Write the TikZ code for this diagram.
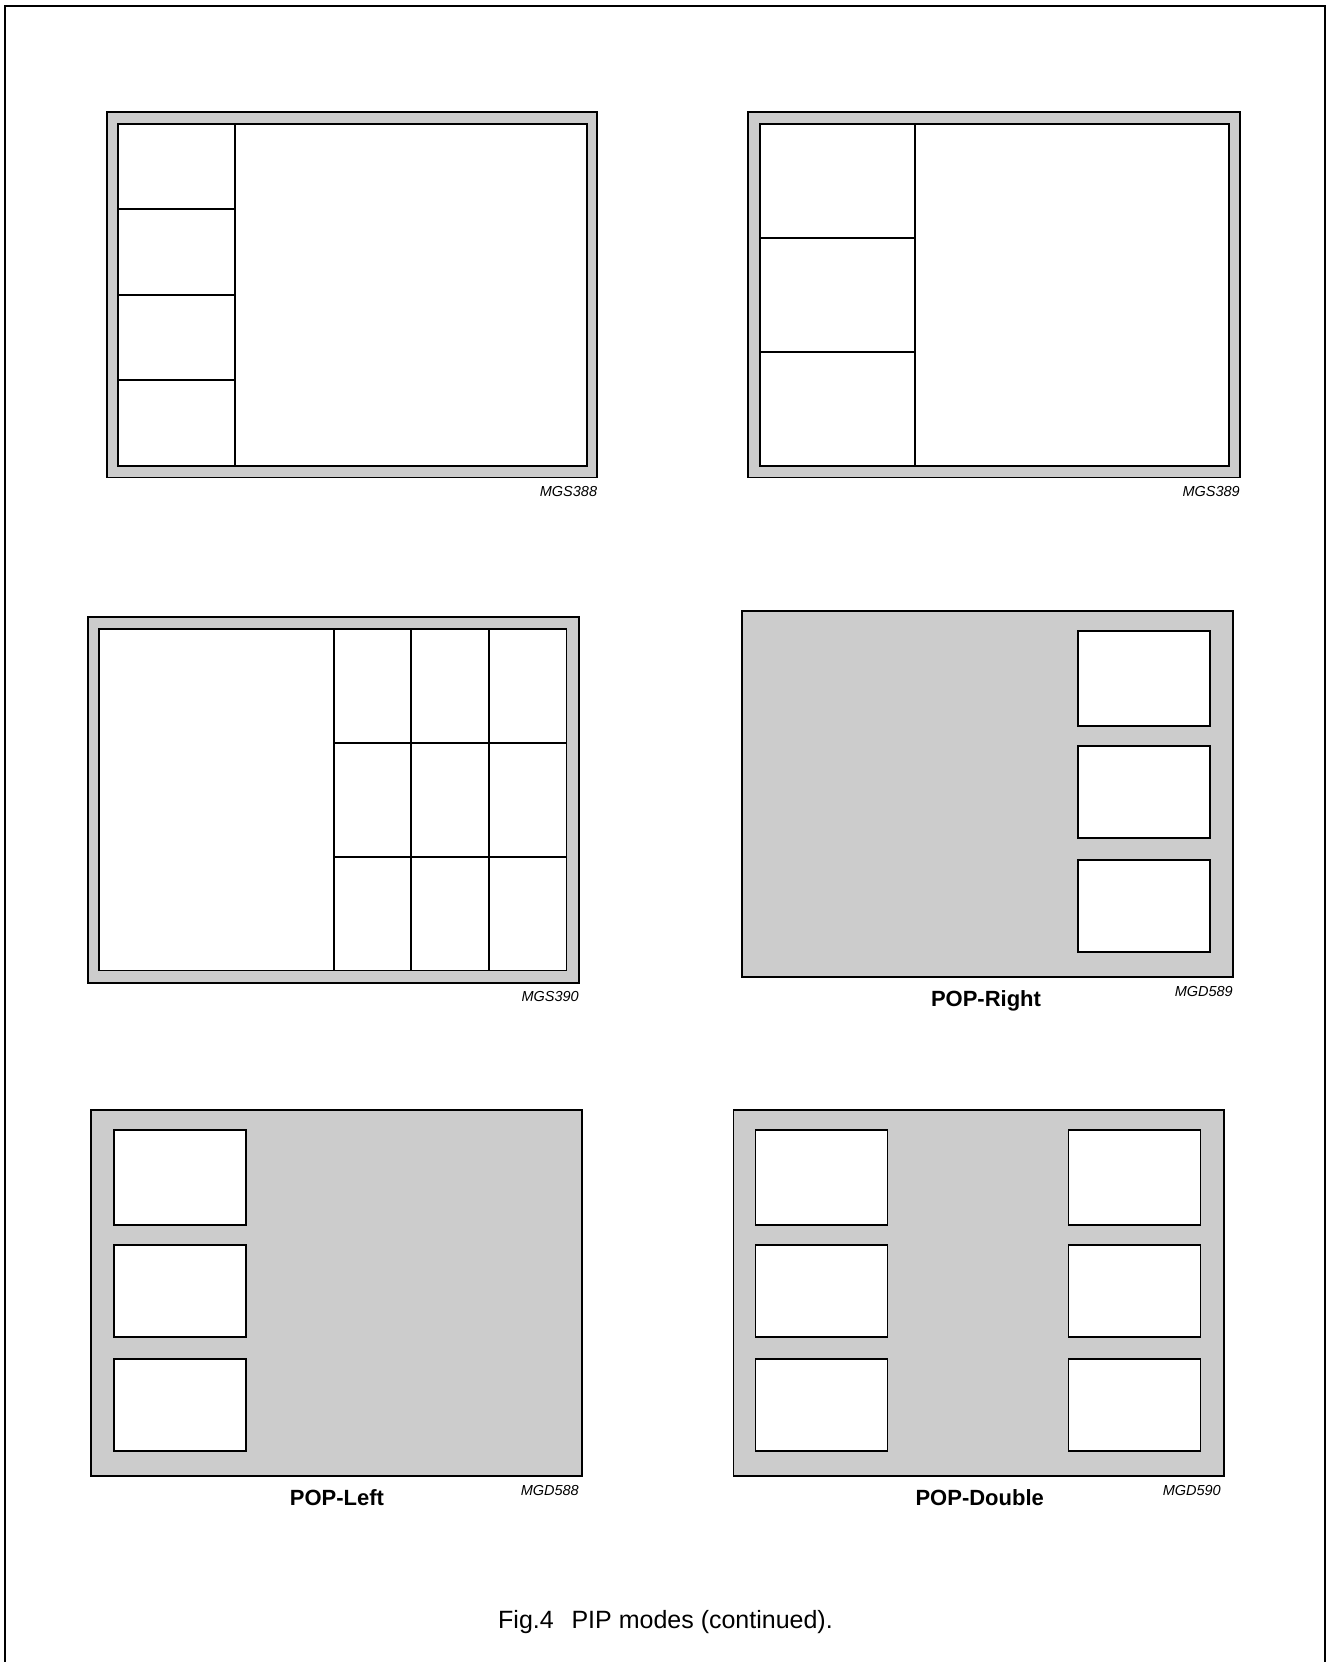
\documentclass[tikz,border=0pt]{standalone}
\usepackage{fontspec}
\setmainfont{Liberation Sans}
\definecolor{bandgray}{HTML}{CCCCCC}
\begin{document}
\begin{tikzpicture}[x=1pt,y=-1pt,
  frame/.style={draw=black,line width=1.8pt,fill=bandgray},
  screen/.style={draw=black,line width=1.8pt,fill=white},
  divline/.style={draw=black,line width=1.8pt},
  code/.style={font=\fontsize{14.5}{16}\selectfont\itshape,inner sep=0pt},
  title/.style={font=\fontsize{22}{25}\selectfont\bfseries,inner sep=0pt},
  captxt/.style={font=\fontsize{25}{29}\selectfont,inner sep=0pt}]
\useasboundingbox (0,0) rectangle (1326,1662);
% page frame
\draw[line width=1.5pt] (5,1662) -- (5,6) -- (1325,6) -- (1325,1662);

% Panel 1: MGS388
\path[frame] (107.3,112) rectangle (597.3,477.5);
\path[screen] (118.3,123.7) rectangle (587.3,465.7);
\draw[divline] (235.3,123.7) -- (235.3,465.7);
\foreach \yy in {209.2,294.7,380.2} \draw[divline] (118.3,\yy) -- (235.3,\yy);
\node[code,anchor=base east] (l388) at (597.3,496.7) {MGS388};

% Panel 2: MGS389
\path[frame] (748.3,112) rectangle (1240,477.5);
\path[screen] (760,123.7) rectangle (1228.7,465.7);
\draw[divline] (915.3,123.7) -- (915.3,465.7);
\foreach \yy in {237.7,351.7} \draw[divline] (760,\yy) -- (915.3,\yy);
\node[code,anchor=base east] (l389) at (1240,496.7) {MGS389};

% Panel 3: MGS390
\path[frame] (87.7,616.7) rectangle (578.8,982.6);
\path[screen] (99,629) rectangle (566.5,970.5);
\foreach \xx in {334,411.3,488.7} \draw[divline] (\xx,629) -- (\xx,970.5);
\foreach \yy in {743,856.7} \draw[divline] (334,\yy) -- (566.5,\yy);
\node[code,anchor=base east] (l390) at (579,1001.6) {MGS390};

% Panel 4: POP-Right
\path[frame] (742.3,611) rectangle (1233.3,976.7);
\path[screen] (1077.7,630.7) rectangle (1209.7,725.7);
\path[screen] (1077.7,746.3) rectangle (1209.7,837.7);
\path[screen] (1077.7,860) rectangle (1209.7,952.3);
\node[code,anchor=base east] (l589) at (1233,996) {MGD589};
\node[title,anchor=base] (popr) at (986,1006) {POP-Right};

% Panel 5: POP-Left
\path[frame] (91.3,1110) rectangle (581.7,1475.7);
\path[screen] (113.7,1129.7) rectangle (245.7,1224.7);
\path[screen] (113.7,1245.3) rectangle (245.7,1336.7);
\path[screen] (113.7,1359) rectangle (245.7,1451.3);
\node[code,anchor=base east] (l588) at (579,1495) {MGD588};
\node[title,anchor=base] (popl) at (337,1505) {POP-Left};

% Panel 6: POP-Double
\path[frame] (733.5,1110) rectangle (1224,1475.7);
\foreach \xa/\xb in {755.5/887.5,1068.5/1200.5}{
  \path[screen] (\xa,1129.7) rectangle (\xb,1224.7);
  \path[screen] (\xa,1245.3) rectangle (\xb,1336.7);
  \path[screen] (\xa,1359) rectangle (\xb,1451.3);
}
\node[code,anchor=base east] (l590) at (1221,1495) {MGD590};
\node[title,anchor=base] (popd) at (979.7,1505) {POP-Double};

% caption
\node[captxt,anchor=base west] (capa) at (498,1628) {Fig.4};
\node[captxt,anchor=base east] (capb) at (833,1628) {PIP modes (continued).};
\end{tikzpicture}
\end{document}
